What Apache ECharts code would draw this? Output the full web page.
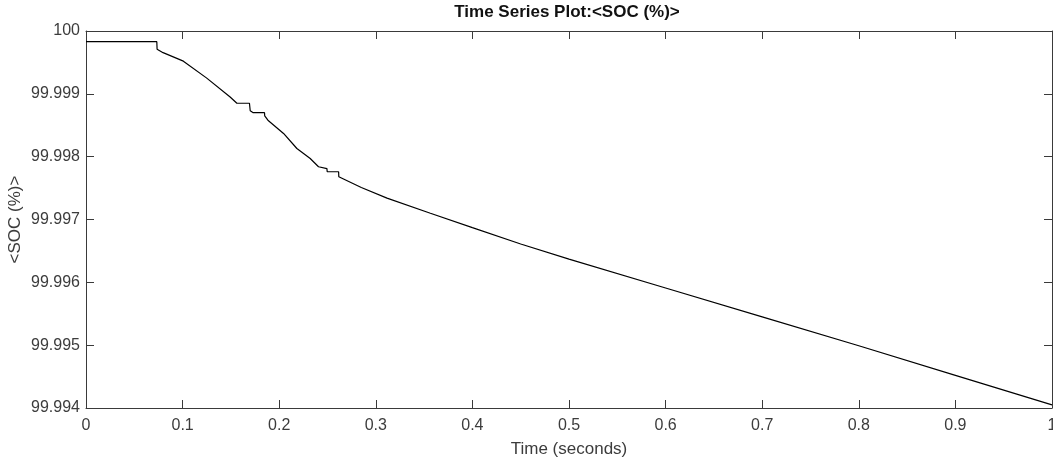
<!DOCTYPE html>
<html>
<head>
<meta charset="utf-8">
<script src="https://cdn.jsdelivr.net/npm/echarts@6/dist/echarts.min.js"></script>
<style>
html,body{margin:0;padding:0;background:#fff;}
#chart{width:1053px;height:463px;}
</style>
</head>
<body>
<div id="chart"></div>
<script>
const titleText = 'Time Series Plot:<SOC (%)>';
const xName = 'Time (seconds)';
const yName = '<SOC (%)>';
const timeSec = [0, 0.0733, 0.0736, 0.0798, 0.1008, 0.1250, 0.1492, 0.1562, 0.1692, 0.1700, 0.1731, 0.1848, 0.1850, 0.1883, 0.2045, 0.2183, 0.2321, 0.2407, 0.2494, 0.2497, 0.2615, 0.2617, 0.2850, 0.3116, 0.3565, 0.4, 0.45, 0.5, 0.6, 0.7, 0.8, 0.9, 1.0];
const socPct = [99.99983, 99.99983, 99.99971, 99.999655, 99.99952, 99.99925, 99.99895, 99.99885, 99.99885, 99.99873, 99.99870, 99.99870, 99.99865, 99.99858, 99.99837, 99.99813, 99.99797, 99.99784, 99.99781, 99.99776, 99.99776, 99.99768, 99.99751, 99.99734, 99.99710, 99.99687, 99.99661, 99.99637, 99.99591, 99.99545, 99.99499, 99.99452, 99.99405];
const xMin = 0, xMax = 1, xStep = 0.1;
const yMin = 99.994, yMax = 100, yStep = 0.001;

const seriesData = timeSec.map((t, i) => [t, socPct[i]]);
const font = 'Liberation Sans, Arial, Helvetica, sans-serif';
const axisColor = '#3a3a3a';
const labelColor = '#3c3c3c';

const chart = echarts.init(document.getElementById('chart'), null, {renderer: 'canvas'});
chart.setOption({
  backgroundColor: '#ffffff',
  animation: false,
  title: {
    text: titleText,
    left: 562, top: -1, textAlign: 'center',
    textStyle: {fontFamily: font, fontSize: 17, fontWeight: 'bold', color: '#111'}
  },
  grid: {left: 86, right: 1, top: 31, bottom: 55, containLabel: false, outerBoundsMode: 'none'},
  xAxis: [{
    type: 'value', min: xMin, max: xMax, interval: xStep, position: 'bottom',
    name: xName, nameLocation: 'middle', nameGap: 33, nameMoveOverlap: false,
    nameTextStyle: {fontFamily: font, fontSize: 17, color: labelColor},
    axisLine: {show: true, onZero: false, lineStyle: {color: axisColor, width: 1}},
    axisTick: {show: true, inside: true, length: 8, lineStyle: {color: axisColor}},
    axisLabel: {fontFamily: font, fontSize: 16, color: labelColor, margin: 10,
      formatter: v => String(Math.round(v * 10) / 10)},
    splitLine: {show: false}
  }, {
    type: 'value', min: xMin, max: xMax, interval: xStep, position: 'top',
    axisLine: {show: true, onZero: false, lineStyle: {color: axisColor, width: 1}},
    axisTick: {show: true, inside: true, length: 8, lineStyle: {color: axisColor}},
    axisLabel: {show: false}, splitLine: {show: false}
  }],
  yAxis: [{
    type: 'value', min: yMin, max: yMax, interval: yStep, position: 'left',
    name: yName, nameLocation: 'middle', nameGap: 62, nameRotate: 90, nameMoveOverlap: false,
    nameTextStyle: {fontFamily: font, fontSize: 17, color: labelColor},
    axisLine: {show: true, onZero: false, lineStyle: {color: axisColor, width: 1}},
    axisTick: {show: true, inside: true, length: 8, lineStyle: {color: axisColor}},
    axisLabel: {fontFamily: font, fontSize: 16, color: labelColor, margin: 6,
      formatter: v => Math.abs(v - 100) < 1e-7 ? '100' : v.toFixed(3)},
    splitLine: {show: false}
  }, {
    type: 'value', min: yMin, max: yMax, interval: yStep, position: 'right',
    axisLine: {show: true, onZero: false, lineStyle: {color: axisColor, width: 1}},
    axisTick: {show: true, inside: true, length: 8, lineStyle: {color: axisColor}},
    axisLabel: {show: false}, splitLine: {show: false}
  }],
  series: [{
    type: 'line', xAxisIndex: 0, yAxisIndex: 0,
    data: seriesData, showSymbol: false, symbol: 'none',
    lineStyle: {color: '#000', width: 1.2}
  }]
});
</script>
</body>
</html>
